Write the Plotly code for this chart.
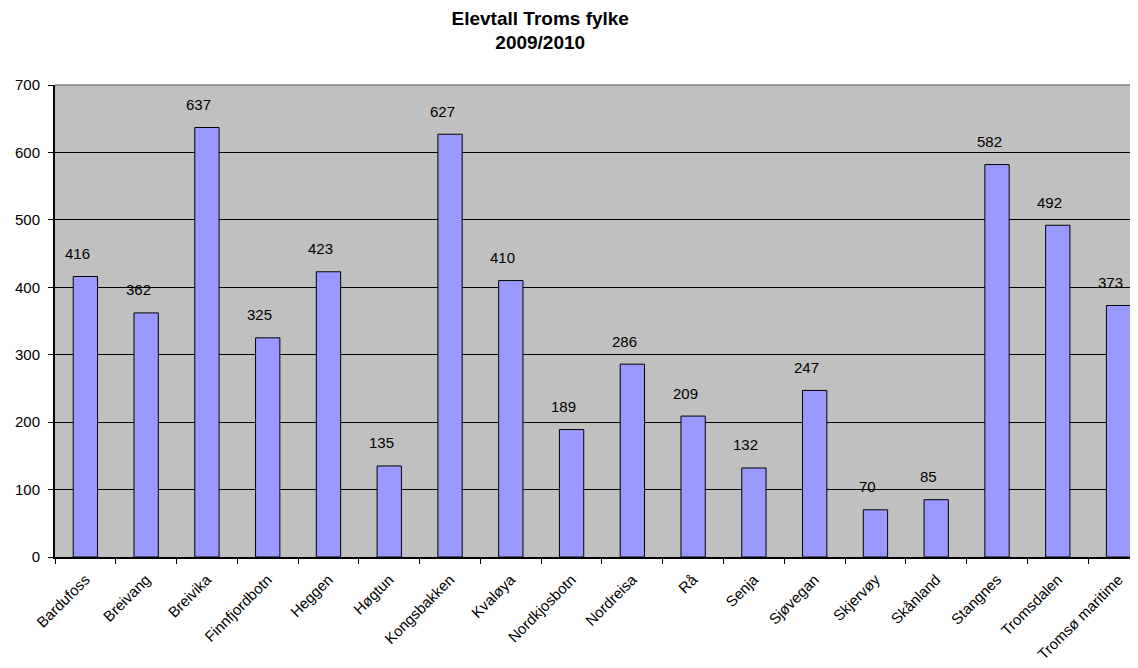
import plotly.graph_objects as go

schools = ["Bardufoss", "Breivang", "Breivika", "Finnfjordbotn", "Heggen", "Høgtun",
           "Kongsbakken", "Kvaløya", "Nordkjosbotn", "Nordreisa", "Rå", "Senja",
           "Sjøvegan", "Skjervøy", "Skånland", "Stangnes", "Tromsdalen", "Tromsø maritime"]
students = [416, 362, 637, 325, 423, 135, 627, 410, 189, 286, 209, 132, 247, 70, 85, 582, 492, 373]

FONT = "Liberation Sans, Arial"

fig = go.Figure()
fig.add_trace(go.Bar(
    x=schools, y=students,
    marker=dict(color="#9999FF", line=dict(color="black", width=1)),
    hoverinfo="x+y",
))

for s, v in zip(schools, students):
    fig.add_annotation(x=s, y=v, text=str(v), showarrow=False, yshift=23, xshift=-8,
                       font=dict(family=FONT, size=15, color="black"))

# top border of the plot area (gray)
fig.add_shape(type="line", xref="paper", yref="paper", x0=0, x1=1, y0=1, y1=1,
              line=dict(color="#808080", width=1.5), layer="above")

fig.update_layout(
    width=1130, height=660,
    margin=dict(l=47, r=0, t=77, b=111),
    paper_bgcolor="white", plot_bgcolor="#C0C0C0",
    bargap=0.6,
    showlegend=False,
    title=dict(text="<b>Elevtall Troms fylke<br>2009/2010</b>", x=0.471, xanchor="center",
               xref="container", yref="container", y=0.975, yanchor="top",
               font=dict(family=FONT, size=19, color="black")),
    font=dict(family=FONT, size=15, color="black"),
)
fig.update_xaxes(range=[-0.5, 17.32], tickangle=-45, ticks="outside", tickson="boundaries",
                 ticklen=5, tickcolor="black", showline=True, linecolor="black", linewidth=2,
                 showgrid=False, tickfont=dict(size=15), automargin=False,
                 ticklabelstandoff=6)
fig.update_yaxes(range=[0, 700], dtick=100, ticks="outside", ticklen=5, tickcolor="black",
                 showline=True, linecolor="black", linewidth=2,
                 showgrid=True, gridcolor="black", gridwidth=1, zeroline=False,
                 tickfont=dict(size=15), automargin=False, ticklabelstandoff=5)

fig.write_html("out.html")
